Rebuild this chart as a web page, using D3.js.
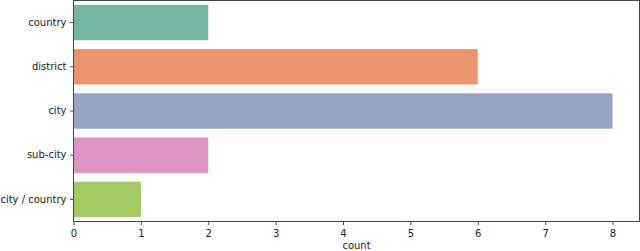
<!DOCTYPE html>
<html><head><meta charset="utf-8">
<script src="https://cdn.jsdelivr.net/npm/d3@7"></script>
<style>body{margin:0;background:#fff}svg{display:block;font-family:"DejaVu Sans",sans-serif}</style>
</head><body>
<svg id="c" width="640" height="251"></svg>
<script>
const categories = ["country", "district", "city", "sub-city", "city / country"];
const counts = [2, 6, 8, 2, 1];
const colors = ["#72b6a1", "#e9966f", "#94a3c3", "#dc93c0", "#a4ca64"];
const xTicks = [0, 1, 2, 3, 4, 5, 6, 7, 8];

const svg = d3.select("#c");
const m = {left: 73.5, top: 0.5, right: 639.5, bottom: 221.5};
const x = d3.scaleLinear().domain([0, 8.4]).range([m.left, m.right]);
const y = d3.scaleBand().domain(categories).range([m.top, m.bottom]).paddingInner(0.2).paddingOuter(0.1);

svg.append("g").selectAll("rect").data(categories).join("rect")
  .attr("x", x(0)).attr("y", d => y(d))
  .attr("width", (d, i) => x(counts[i]) - x(0))
  .attr("height", y.bandwidth())
  .attr("fill", (d, i) => colors[i]);

const xa = svg.append("g").attr("transform", `translate(0,${m.bottom})`)
  .call(d3.axisBottom(x).tickValues(xTicks).tickSize(3.5).tickPadding(5).tickFormat(d3.format("d")));
const ya = svg.append("g").attr("transform", `translate(${m.left},0)`)
  .call(d3.axisLeft(y).tickSize(3.5).tickPadding(3.5));
[xa, ya].forEach(g => {
  g.select(".domain").remove();
  g.selectAll("text").attr("font-size", 10).attr("fill", "#222").attr("font-family", "DejaVu Sans");
  g.selectAll("line").attr("stroke", "#222").attr("stroke-width", 0.8);
});

svg.append("rect").attr("x", m.left).attr("y", m.top)
  .attr("width", m.right - m.left).attr("height", m.bottom - m.top)
  .attr("fill", "none").attr("stroke", "#444").attr("stroke-width", 1);

svg.append("text").attr("x", (m.left + m.right) / 2).attr("y", 248.5)
  .attr("text-anchor", "middle").attr("font-size", 10).attr("fill", "#222").text("count");
</script>
</body></html>
